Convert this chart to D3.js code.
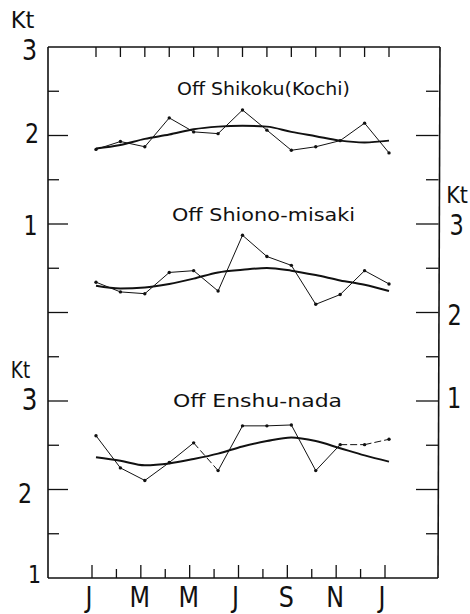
<!DOCTYPE html>
<html><head><meta charset="utf-8">
<script src="https://cdn.jsdelivr.net/npm/d3@7"></script>
<style>html,body{margin:0;padding:0;background:#fff;}svg{display:block;}</style>
</head><body>
<script>
// ---- data ----
const months = ["J","F","M","A","M","J","J","A","S","O","N","D","J"];
const monthLabels = ["J","M","M","J","S","N","J"]; // every other month
const shikokuObs    = [1.83,1.92,1.86,2.19,2.03,2.01,2.28,2.05,1.82,1.86,1.93,2.13,1.79];
const shikokuSmooth = [1.84,1.88,1.95,2.00,2.06,2.09,2.10,2.09,2.03,1.98,1.93,1.91,1.93];
const shionoObs     = [2.32,2.21,2.19,2.43,2.45,2.22,2.85,2.61,2.51,2.07,2.18,2.45,2.30];
const shionoSmooth  = [2.28,2.25,2.26,2.30,2.36,2.43,2.46,2.48,2.45,2.40,2.34,2.29,2.22];
const enshuObs      = [2.59,2.23,2.09,2.29,2.51,2.20,2.70,2.70,2.71,2.20,2.49,2.49,2.55];
const enshuSmooth   = [2.35,2.31,2.26,2.28,2.33,2.39,2.47,2.53,2.57,2.53,2.45,2.37,2.30];
const enshuDashedSegments = [4,10,11]; // segment i -> i+1 drawn dashed
const leftTickLabels  = [["3",0],["2",2],["1",4],["3",8],["2",10],["1",12]];
const rightTickLabels = [["3",4],["2",6],["1",8]];
const titles = ["Off Shikoku(Kochi)","Off Shiono-misaki","Off Enshu-nada"];

// ---- layout ----
const W = 470, H = 614;
const L = 48, R = 438, T = 47, B = 578;
const ink = "#111";
const svg = d3.select("body").append("svg").attr("width",W).attr("height",H);
svg.append("rect").attr("width",W).attr("height",H).attr("fill","#fff");

const x  = d3.scaleLinear().domain([0,12]).range([96,389]);
const xb = d3.scaleLinear().domain([0,12]).range([92,385]);
const yTick = d3.scaleLinear().domain([0,12]).range([T,B]);
const yU = d3.scaleLinear().domain([1,3]).range([222,47]);
const yM = d3.scaleLinear().domain([1,3]).range([399,222]);
const yL = d3.scaleLinear().domain([1,3]).range([578,399]);

const font = "'DejaVu Sans', 'Liberation Sans', sans-serif";
function txt(s, x0, yb, size, len){
  const t = svg.append("text").attr("x",x0).attr("y",yb).text(s)
    .attr("font-family",font).attr("font-size",size).attr("fill",ink);
  if(len) t.attr("textLength",len).attr("lengthAdjust","spacingAndGlyphs");
  return t;
}
// centered, horizontally condensed text
function ctxt(s, cx, yb, size, sx){
  return svg.append("text").attr("transform",`translate(${cx},${yb}) scale(${sx},1)`)
    .attr("text-anchor","middle").text(s)
    .attr("font-family",font).attr("font-size",size).attr("fill",ink);
}

// frame
const g = svg.append("g").attr("stroke",ink).attr("fill","none");
g.append("line").attr("x1",L).attr("y1",T).attr("x2",R+2).attr("y2",T).attr("stroke-width",1.6);
g.append("line").attr("x1",L).attr("y1",T).attr("x2",L).attr("y2",B).attr("stroke-width",1.6);
g.append("line").attr("x1",R+2).attr("y1",T).attr("x2",R).attr("y2",B).attr("stroke-width",1.6);
g.append("line").attr("x1",L).attr("y1",B).attr("x2",R).attr("y2",B).attr("stroke-width",1.6);

const idx = d3.range(13);
// left ticks
idx.slice(1,12).forEach(i=>{
  g.append("line").attr("x1",L).attr("x2",L+(i%2===0?20:11))
   .attr("y1",yTick(i)).attr("y2",yTick(i)).attr("stroke-width",1.3);
});
// right ticks
idx.slice(1,12).forEach(i=>{
  g.append("line").attr("x1",R+0.5).attr("x2",R-(i%2===0?22:12))
   .attr("y1",yTick(i)).attr("y2",yTick(i)).attr("stroke-width",1.3);
});
// top ticks
idx.forEach(i=>{
  g.append("line").attr("x1",x(i)).attr("x2",x(i)).attr("y1",T).attr("y2",T+10).attr("stroke-width",1.3);
});
// bottom ticks
idx.forEach(i=>{
  g.append("line").attr("x1",xb(i)).attr("x2",xb(i)).attr("y1",B).attr("y2",B-(i%2===0?13:9)).attr("stroke-width",1.3);
});

// axis unit labels
ctxt("Kt",22.5,28,23,0.98);
ctxt("Kt",20.5,378,23,0.8);
ctxt("Kt",457,203,23,0.9);
const leftPos = {0:[29.5,60,29],2:[32,143,27],4:[30.5,235,27],8:[29.5,410,30],10:[25,503,27],12:[34.5,583,25]};
leftTickLabels.forEach(([s,i])=>{ const p=leftPos[i]; ctxt(s,p[0],p[1],p[2],0.82); });
const rightPos = {4:[456.5,235,28],6:[454.5,325,28],8:[454,408,28]};
rightTickLabels.forEach(([s,i])=>{ const p=rightPos[i]; ctxt(s,p[0],p[1],p[2],0.8); });

// month labels
monthLabels.forEach((m,k)=>{
  const i = k*2;
  const dx = m==="J" ? -3 : -1;
  ctxt(m, xb(i)+dx, 607, 28, 0.85);
});

// titles
txt(titles[0],177,95,18,173);
txt(titles[1],172,221,18,183);
txt(titles[2],173,407,18,169);

// series
function drawSeries(obs, smooth, y, dashed){
  const pts = obs.map((v,i)=>[x(i),y(v)]);
  for(let i=0;i<pts.length-1;i++){
    svg.append("line").attr("x1",pts[i][0]).attr("y1",pts[i][1])
      .attr("x2",pts[i+1][0]).attr("y2",pts[i+1][1])
      .attr("stroke",ink).attr("stroke-width",1)
      .attr("stroke-dasharray", dashed && dashed.includes(i) ? "7,3" : null);
  }
  svg.append("g").selectAll("circle").data(pts).join("circle")
    .attr("cx",d=>d[0]).attr("cy",d=>d[1]).attr("r",1.7).attr("fill",ink);
  const line = d3.line().x((v,i)=>x(i)).y(v=>y(v)).curve(d3.curveMonotoneX);
  svg.append("path").attr("d",line(smooth)).attr("fill","none").attr("stroke",ink).attr("stroke-width",2);
}
drawSeries(shikokuObs, shikokuSmooth, yU);
drawSeries(shionoObs, shionoSmooth, yM);
drawSeries(enshuObs, enshuSmooth, yL, enshuDashedSegments);
</script>
</body></html>
